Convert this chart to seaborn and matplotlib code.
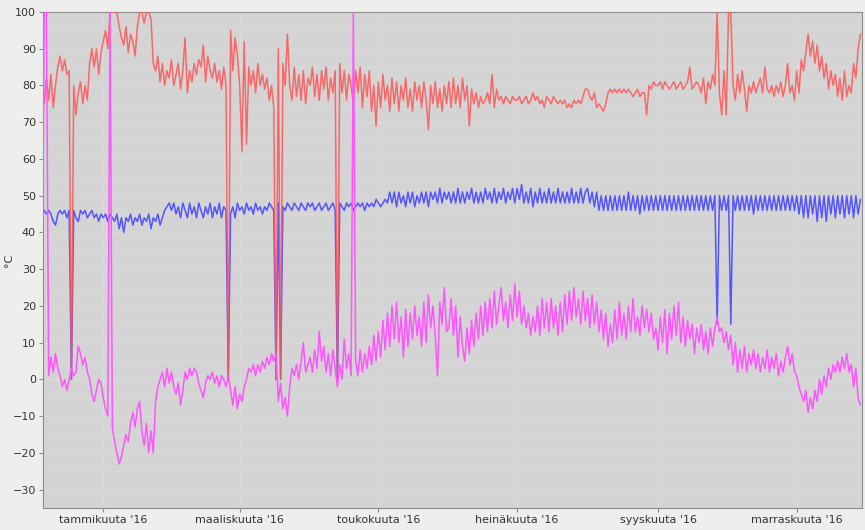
import matplotlib
matplotlib.use("Agg")
import matplotlib.pyplot as plt
from matplotlib.ticker import MultipleLocator
import pandas as pd
import seaborn as sns

start_date = "2015-12-05"

# daily values, Dec 5 2015 .. Nov 29 2016
red_vals = [
    # Dec
    80, 75, 82, 76, 83, 74, 80, 85, 88, 84, 87, 83, 84, 0, 80, 72, 78, 81, 75, 80, 76, 86, 90, 85, 90, 83, 89,
    # Jan
    92, 95, 90, 100, 100, 100, 100, 96, 93, 91, 96, 89, 94, 92, 88, 96, 100, 100, 97, 100, 100, 98, 86, 84, 88, 81, 86, 80, 84, 82, 87,
    # Feb
    80, 83, 86, 79, 84, 93, 78, 84, 81, 86, 83, 87, 85, 91, 81, 88, 84, 82, 86, 81, 84, 79, 85, 80, 0, 95, 84, 93, 88,
    # Mar
    80, 62, 92, 64, 85, 80, 84, 78, 86, 80, 83, 79, 82, 76, 80, 74, 0, 90, 0, 86, 80, 94, 80, 76, 85, 77, 83, 76, 84, 75, 82,
    # Apr
    80, 85, 77, 83, 76, 84, 79, 85, 76, 82, 78, 84, 0, 86, 78, 84, 76, 83, 80, 75, 84, 78, 85, 74, 83, 77, 84, 73, 80, 69,
    # May
    81, 74, 83, 76, 80, 73, 82, 75, 81, 73, 80, 76, 82, 74, 79, 73, 81, 76, 80, 74, 81, 76, 68, 80, 75, 81, 74, 79, 73, 80, 75,
    # Jun
    81, 74, 82, 75, 80, 74, 82, 76, 80, 69, 79, 75, 78, 74, 77, 75, 76, 78, 75, 83, 74, 79, 76, 77, 75, 77, 76, 75, 77, 76,
    # Jul
    76, 77, 75, 76, 77, 75, 76, 78, 76, 77, 75, 76, 74, 77, 76, 75, 77, 76, 75, 76, 75, 76, 74, 75, 74, 76, 75, 76, 75, 77, 79,
    # Aug
    79, 77, 76, 78, 74, 75, 74, 73, 75, 78, 79, 78, 79, 78, 79, 78, 79, 78, 79, 78, 77, 78, 79, 77, 78, 78, 72, 80, 79, 81, 80,
    # Sep
    80, 81, 79, 81, 80, 79, 80, 81, 79, 80, 81, 79, 80, 81, 85, 79, 80, 81, 80, 78, 82, 75, 81, 79, 83, 80, 100, 78, 72, 84,
    # Oct
    72, 100, 100, 80, 76, 83, 78, 84, 79, 73, 80, 78, 81, 78, 80, 82, 78, 85, 79, 78, 80, 77, 80, 78, 81, 77, 80, 86, 78, 80, 76,
    # Nov
    84, 78, 87, 84, 89, 94, 88, 92, 86, 91, 84, 88, 82, 86, 79, 84, 80, 83, 77, 82, 76, 84, 77, 80, 78, 86, 82, 90, 94,
]

blue_vals = [
    46, 46, 45, 46, 45, 43, 42, 45, 46, 45, 46, 44, 46, 0, 46, 44, 43, 46, 45, 46, 44, 45, 46, 44, 45, 43, 45,
    44, 45, 43, 45, 44, 43, 45, 41, 44, 40, 44, 43, 45, 42, 44, 43, 45, 42, 44, 43, 45, 41, 44, 43, 45, 42, 44, 46, 47, 48, 46,
    48, 45, 47, 44, 48, 46, 44, 48, 45, 47, 44, 48, 46, 44, 47, 45, 48, 44, 47, 45, 48, 44, 47, 46, 0, 45, 47, 44, 48,
    46, 47, 45, 48, 46, 47, 45, 48, 46, 47, 45, 47, 46, 48, 47, 46, 0, 48, 0, 47, 46, 48, 47, 46, 48, 47, 46, 48, 47, 46, 48,
    47, 48, 46, 47, 48, 46, 47, 48, 46, 47, 48, 46, 0, 48, 47, 46, 48, 47, 48, 46, 47, 48, 47, 48, 46, 48, 47, 48, 47, 49,
    48, 47, 48, 49, 48, 51, 48, 51, 47, 51, 48, 50, 47, 51, 48, 51, 47, 50, 48, 51, 48, 51, 47, 51, 49, 51, 48, 52, 48, 51, 49,
    51, 48, 51, 48, 52, 48, 51, 48, 51, 49, 52, 48, 51, 48, 51, 48, 52, 49, 51, 48, 52, 48, 51, 49, 52, 48, 51, 49, 52, 48,
    52, 49, 53, 48, 51, 48, 52, 47, 51, 48, 52, 48, 51, 48, 52, 48, 51, 48, 52, 48, 51, 48, 51, 48, 52, 48, 51, 48, 52, 48, 51,
    52, 48, 51, 47, 51, 46, 50, 46, 50, 46, 50, 46, 50, 46, 50, 46, 50, 46, 51, 46, 50, 46, 50, 45, 50, 46, 50, 46, 50, 46, 50,
    46, 50, 46, 50, 46, 50, 46, 50, 46, 50, 46, 50, 46, 50, 46, 50, 46, 50, 46, 50, 46, 50, 46, 50, 46, 50, 15, 50, 46, 50,
    46, 50, 15, 50, 46, 50, 46, 50, 46, 50, 46, 50, 45, 50, 46, 50, 46, 50, 46, 50, 46, 50, 46, 50, 46, 50, 46, 50, 46, 50, 46,
    50, 45, 50, 44, 50, 44, 50, 45, 50, 43, 50, 44, 50, 43, 50, 45, 50, 44, 50, 45, 50, 44, 50, 45, 50, 44, 50, 45, 49,
]

magenta_vals = [
    7, 100, 100, 1, 6, 2, 7, 3, 1, -2, 0, -3, 0, 3, 1, 2, 9, 7, 4, 6, 2, 0, -4, -6, -3, 0, -1,
    -5, -8, -10, 100, -13, -17, -20, -23, -21, -18, -15, -17, -12, -9, -13, -8, -6, -14, -18, -12, -20, -14, -20, -6, -2, 0, 2, -2, 3, -1, 2,
    -2, -4, -1, -7, -3, 2, 0, 3, 1, 3, 2, -1, -3, -5, -1, 1, 0, 2, -1, 1, -2, 1, 0, -2, 1, -3, -7, -2, -8,
    -4, -6, -2, 0, 3, 2, 4, 1, 4, 2, 5, 3, 6, 4, 7, 5, 7, -6, -1, -8, -5, -10, -2, 3, 1, 4, 0, 5, 10, 2, 4,
    6, 2, 8, 3, 13, 5, 9, 2, 7, 1, 8, 3, -2, 4, 0, 11, 3, 7, 1, 100, 5, 1, 8, 2, 7, 3, 9, 4, 12, 5,
    13, 6, 16, 8, 18, 9, 20, 11, 21, 10, 17, 6, 19, 9, 18, 11, 20, 12, 17, 9, 21, 10, 23, 14, 20, 12, 1, 21, 15, 25, 13,
    14, 22, 12, 20, 6, 17, 9, 5, 14, 7, 16, 9, 18, 11, 20, 12, 21, 13, 22, 14, 24, 15, 20, 25, 16, 21, 14, 23, 16, 26,
    17, 24, 15, 20, 14, 18, 12, 17, 13, 20, 12, 22, 14, 21, 13, 22, 14, 20, 12, 21, 13, 23, 15, 24, 16, 25, 17, 22, 15, 24, 16,
    22, 14, 23, 15, 21, 13, 19, 11, 18, 9, 15, 10, 19, 11, 21, 12, 18, 11, 20, 13, 22, 13, 17, 12, 20, 14, 19, 13, 18, 11, 14,
    8, 17, 10, 19, 7, 18, 11, 20, 12, 21, 10, 17, 9, 16, 11, 15, 7, 14, 10, 15, 8, 13, 7, 14, 9, 14, 17, 13, 14, 10,
    13, 8, 12, 4, 10, 2, 8, 3, 9, 2, 7, 4, 8, 3, 7, 2, 6, 3, 8, 2, 6, 3, 7, 1, 5, 2, 6, 9, 4, 7, 2,
    1, -2, -4, -6, -3, -9, -5, -8, -3, -6, 0, -4, 1, -2, 3, 0, 4, 2, 5, 2, 6, 3, 7, 2, 4, -2, 3, -5, -7,
]

tick_dates = ["2016-01-01", "2016-03-01", "2016-05-01", "2016-07-01", "2016-09-01", "2016-11-01"]
tick_labels = ["tammikuuta '16", "maaliskuuta '16", "toukokuuta '16",
               "heinäkuuta '16", "syyskuuta '16", "marraskuuta '16"]
y_ticks = list(range(-30, 101, 10))


def frame(vals):
    return pd.DataFrame({
        "date": pd.date_range(start_date, periods=len(vals), freq="D"),
        "value": vals,
    })


sns.set_style("ticks", {
    "axes.facecolor": "#d4d4d4",
    "figure.facecolor": "#eeeeec",
    "axes.edgecolor": "#8c8c8c",
})
plt.rcParams["font.family"] = ["DejaVu Sans"]

fig = plt.figure(figsize=(8.65, 5.30), dpi=100)
ax = fig.add_axes([43 / 865, 22 / 530, 819 / 865, 496 / 530])

sns.lineplot(data=frame(blue_vals), x="date", y="value", color="#5555ff",
             lw=1.1, estimator=None, ax=ax, zorder=3)
sns.lineplot(data=frame(red_vals), x="date", y="value", color="#ff5555",
             lw=1.1, alpha=0.85, estimator=None, ax=ax, zorder=4)
sns.lineplot(data=frame(magenta_vals), x="date", y="value", color="#ff55ff",
             lw=1.1, estimator=None, ax=ax, zorder=5)

ax.set_ylim(-35, 100)
ax.set_yticks(y_ticks)
ax.yaxis.set_minor_locator(MultipleLocator(5))
ax.set_xlim(pd.Timestamp("2015-12-05 12:00"), pd.Timestamp("2016-11-29 17:00"))
ax.set_xticks(pd.to_datetime(tick_dates))
ax.set_xticklabels(tick_labels)

ax.grid(axis="y", which="both", color="#dcdcdc", lw=0.6, zorder=0)
ax.grid(axis="x", which="major", color="#dcdcdc", lw=0.6, zorder=0)
ax.set_axisbelow(True)

ax.tick_params(axis="both", which="major", direction="out", length=3,
               width=0.8, color="#8c8c8c", labelsize=8, labelcolor="#333333", pad=2)
ax.tick_params(axis="both", which="minor", length=0)
for s in ax.spines.values():
    s.set_visible(True)
    s.set_color("#8c8c8c")
    s.set_linewidth(0.8)

ax.set_xlabel("")
ax.set_ylabel("°C", fontsize=8, color="#333333")
ax.yaxis.set_label_coords(-0.036, 0.5)

fig.savefig("out.png", dpi=100, facecolor=fig.get_facecolor())
